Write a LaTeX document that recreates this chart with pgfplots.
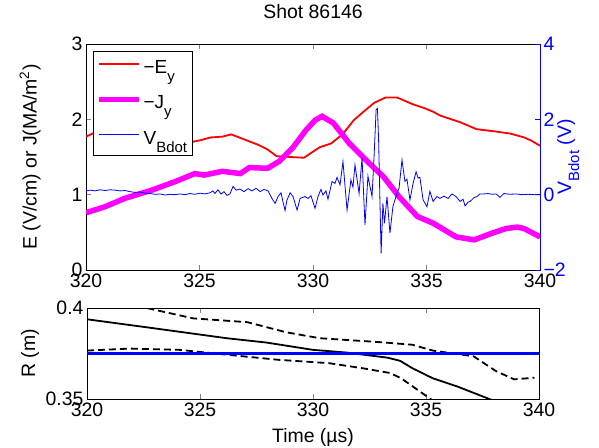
\documentclass[border=0pt]{standalone}
\usepackage{pgfplots}
\pgfplotsset{compat=1.18}
\usepackage{fontspec}
\setmainfont{Liberation Sans}
\definecolor{mymag}{RGB}{255,0,255}
\definecolor{myred}{RGB}{255,0,0}
\definecolor{myblue}{RGB}{0,0,255}
\newcommand\sub[1]{\raisebox{-8bp}{\fontsize{15}{15}\selectfont #1}}
\begin{document}
\begin{tikzpicture}
\useasboundingbox (0,0) rectangle (599bp,448bp);
\pgfplotsset{
  every axis/.append style={
    scale only axis,
    font=\fontsize{19.5}{22}\selectfont,
    /pgf/number format/assume math mode=true,
    tick align=inside,
    major tick length=5bp,
    axis line style={line width=0.6bp},
    every tick/.append style={line width=0.6bp},
  },
}
% ---------- top, left axis ----------
\begin{axis}[
  at={(86bp,178bp)}, anchor=south west,
  width=454bp, height=226bp,
  xmin=320, xmax=340, ymin=0, ymax=3,
  xtick={320,325,330,335,340}, ytick={0,1,2,3},
  xtick pos=both, ytick pos=left,
  title={Shot 86146},
  title style={at={(axis description cs:0.5,1.115)}, anchor=center},
  ylabel={E (V/cm) or J(MA/m\textsuperscript{2})},
  ylabel style={at={(axis description cs:-0.123,0.5)}, anchor=center, rotate=0},
  legend style={at={(0.0154,0.969)}, anchor=north west, fill=white,
    font=\fontsize{19}{22}\selectfont, row sep=17bp,
    inner xsep=3bp, inner ysep=7bp},
  legend cell align=left,
  legend image code/.code={\draw[#1] (0bp,3.5bp) -- (40bp,3.5bp);},
]
\addplot[color=myred, line width=1.8bp] coordinates {
(320.00,1.77) (320.5,1.84) (321.0,1.86) (322.0,1.80) (323.0,1.74) (324.0,1.70)
(324.66,1.70) (325.0,1.72) (325.5,1.76) (326.0,1.77) (326.4,1.80) (327.0,1.73)
(327.6,1.66) (328.0,1.60) (328.4,1.51) (329.0,1.50) (329.6,1.49) (330.3,1.63)
(330.8,1.68) (331.3,1.80) (331.8,1.99) (332.3,2.12) (332.7,2.22) (333.2,2.29)
(333.7,2.29) (334.4,2.20) (334.9,2.15) (335.3,2.10) (335.6,2.05) (336.5,1.96)
(337.2,1.87) (338.0,1.84) (338.7,1.81) (339.3,1.76) (339.6,1.72) (340.0,1.65)
};
\addlegendentry{−E\sub{y}}
\addplot[color=mymag, line width=5.5bp] coordinates {
(320.0,0.76) (320.84,0.84) (321.7,0.95) (322.9,1.06) (323.9,1.17) (324.8,1.28)
(325.2,1.26) (326.0,1.31) (326.8,1.28) (327.2,1.36) (328.0,1.35) (328.5,1.44)
(329.1,1.62) (329.7,1.86) (330.1,1.99) (330.4,2.04) (330.9,1.95) (331.6,1.68)
(332.4,1.44) (333.1,1.24) (333.8,0.97) (334.6,0.71) (335.3,0.62) (336.3,0.44)
(337.1,0.40) (337.9,0.49) (338.5,0.55) (339.0,0.57) (339.3,0.55) (340.0,0.44)
};
\addlegendentry{−J\sub{y}}
\addlegendimage{color=myblue, line width=1bp}
\addlegendentry{V\sub{Bdot}}
\end{axis}
% ---------- top, right axis ----------
\begin{axis}[
  at={(86bp,178bp)}, anchor=south west,
  width=454bp, height=226bp,
  xmin=320, xmax=340, ymin=-2, ymax=4,
  axis x line=none, axis y line*=right,
  tick align=inside,
  ytick={-2,0,2,4}, yticklabels={−2,0,2,4},
  y axis line style={myblue},
  ytick style={myblue},
  yticklabel style={text=myblue},
  ylabel={V\sub{Bdot} (V)},
  ylabel style={at={(axis description cs:1.062,0.5)}, anchor=center, text=myblue, rotate=0},
]
\addplot[color=myblue, line width=0.8bp] coordinates {
(320.00,0.10) (320.18,0.12) (320.40,0.10) (320.62,0.13) (320.84,0.11) (321.06,0.13)
(321.28,0.12) (321.50,0.10) (321.72,0.11) (321.94,0.08) (322.16,0.06) (322.38,0.07)
(322.60,0.04) (322.82,0.03) (323.04,0.01) (323.26,0.02) (323.48,-0.01) (323.70,0.01)
(323.92,0.00) (324.14,0.02) (324.36,0.00) (324.58,0.03) (324.80,0.01) (325.02,0.04)
(325.24,0.02) (325.46,0.05) (325.59,0.10) (325.68,0.03) (325.81,0.13) (325.95,0.02)
(326.08,0.08) (326.21,-0.02) (326.34,0.02) (326.48,0.22) (326.61,0.12) (326.78,0.15)
(326.96,0.08) (327.14,0.16) (327.31,0.10) (327.49,0.17) (327.67,0.08) (327.84,0.14)
(328.02,0.10) (328.19,-0.10) (328.33,-0.23) (328.46,-0.05) (328.59,0.05) (328.68,-0.20)
(328.77,-0.42) (328.85,-0.15) (328.99,0.05) (329.12,-0.05) (329.30,-0.41) (329.43,-0.10)
(329.65,-0.05) (329.78,-0.10) (329.91,-0.03) (330.09,-0.36) (330.22,-0.05) (330.35,0.14)
(330.44,-0.01) (330.57,0.10) (330.66,-0.12) (330.84,0.35) (330.97,0.30) (331.06,0.46)
(331.19,0.26) (331.32,0.88) (331.50,-0.41) (331.67,0.39) (331.76,0.20) (331.85,0.79)
(332.03,0.03) (332.16,0.97) (332.29,-0.80) (332.42,0.49) (332.60,-0.05) (332.69,1.01)
(332.78,2.25) (332.84,2.29) (332.89,1.45) (333.00,-1.56) (333.08,-0.23) (333.15,-0.76)
(333.26,-0.05) (333.39,-1.02) (333.52,-0.32) (333.70,0.04) (333.79,0.17) (333.92,0.92)
(334.05,0.35) (334.14,0.41) (334.27,-0.14) (334.41,0.30) (334.54,0.61) (334.63,0.44)
(334.71,0.46) (334.85,-0.14) (335.02,-0.32) (335.15,0.09) (335.29,-0.18) (335.46,-0.05)
(335.59,-0.10) (335.77,-0.04) (335.95,-0.10) (336.12,0.02) (336.30,-0.05) (336.48,-0.18)
(336.61,-0.12) (336.70,-0.30) (336.83,-0.20) (336.92,-0.18) (337.09,-0.08) (337.22,-0.05)
(337.36,0.02) (337.53,0.02) (337.71,0.03) (337.89,0.01) (338.06,0.02) (338.24,-0.07)
(338.41,0.03) (338.68,0.01) (338.94,0.02) (339.21,0.00) (339.47,0.01) (339.74,0.00)
(340.00,0.00)
};
\end{axis}
% ---------- bottom axis ----------
\begin{axis}[
  at={(87bp,49bp)}, anchor=south west,
  width=452bp, height=91bp,
  xmin=320, xmax=340, ymin=0.35, ymax=0.4,
  xtick={320,325,330,335,340}, ytick={0.35,0.4}, yticklabels={0.35,0.4},
  xtick pos=both, ytick pos=both,
  xlabel={Time (µs)},
  xlabel style={at={(axis description cs:0.5,-0.42)}, anchor=center},
  ylabel={R (m)},
  ylabel style={at={(axis description cs:-0.126,0.5)}, anchor=center, rotate=0},
]
\addplot[black, line width=1.8bp] coordinates {
(320.0,0.3938) (322.64,0.3894) (326.18,0.3834) (327.95,0.3810) (330.0,0.3770)
(331.5,0.3755) (333.3,0.3727) (333.85,0.3710) (334.4,0.3669) (335.3,0.3614)
(336.4,0.3568) (337.8,0.3500) (338.5,0.3470)
};
\addplot[black, line width=1.8bp, dash pattern=on 7bp off 4bp] coordinates {
(322.2,0.4015) (322.64,0.4000) (324.7,0.3943) (327.1,0.3922) (328.8,0.3867)
(330.3,0.3834) (333.0,0.3812) (334.4,0.3798) (335.3,0.3766) (337.1,0.3735)
(338.1,0.3653) (338.9,0.3608) (339.8,0.3617)
};
\addplot[black, line width=1.8bp, dash pattern=on 7bp off 4bp] coordinates {
(320.0,0.3766) (321.9,0.3777) (324.1,0.3770) (326.3,0.3742) (328.5,0.3715)
(330.7,0.3697) (332.2,0.3669) (333.4,0.3643) (333.9,0.3614) (335.2,0.3500)
(335.5,0.3470)
};
\addplot[myblue, line width=2.4bp] coordinates {(320,0.375) (340,0.375)};
\end{axis}
\end{tikzpicture}
\end{document}
